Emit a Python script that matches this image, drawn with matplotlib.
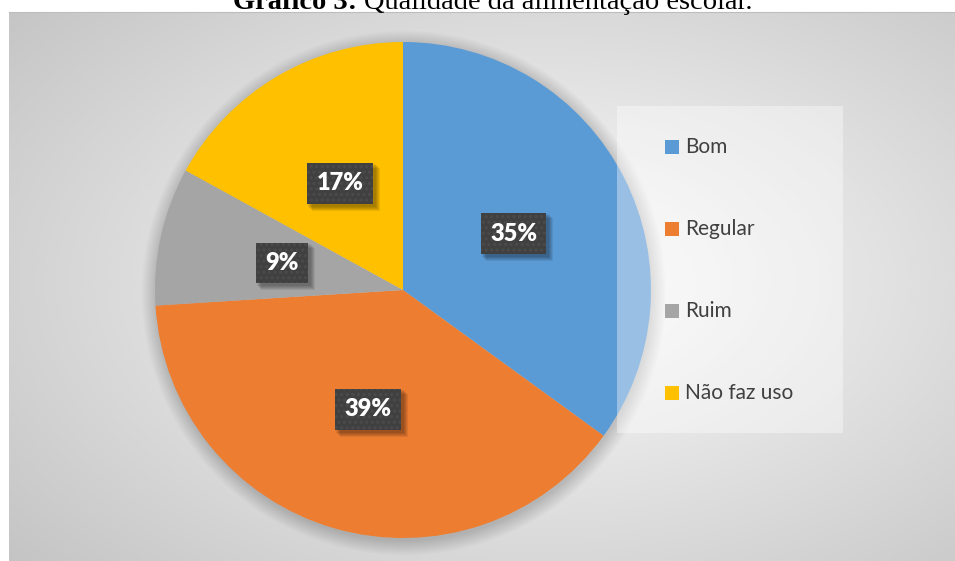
import numpy as np
import matplotlib
matplotlib.use("Agg")
import matplotlib.pyplot as plt
from matplotlib.patches import Rectangle, Circle

plt.rcParams["hatch.linewidth"] = 1.5

# data
categories = ["Bom", "Regular", "Ruim", "Não faz uso"]
values = [35, 39, 9, 17]
colors = ["#5B9BD5", "#ED7D31", "#A5A5A5", "#FFC000"]

W, H = 955, 561
fig = plt.figure(figsize=(W / 100, H / 100), dpi=100)
fig.patch.set_facecolor("white")
ax = fig.add_axes([0, 0, 1, 1])

# chart area with radial grey gradient (y axis goes up, so image y -> H - y)
x0, x1, ytop, ybot = 9, 955, 12, 561
gx = np.linspace(x0, x1, 400)
gy = np.linspace(H - ybot, H - ytop, 240)
GX, GY = np.meshgrid(gx, gy)
r = np.sqrt(((GX - 545) / 480) ** 2 + ((GY - 280) / 290) ** 2)
grad = np.clip(0.99 - 0.15 * r, 0, 1)
ax.imshow(grad, extent=(x0, x1, H - ybot, H - ytop), origin="lower",
          cmap="gray", vmin=0, vmax=1, aspect="auto", zorder=0,
          interpolation="bicubic")
ax.plot([x0, x1], [H - ytop, H - ytop], color="#bdbdbd", lw=0.8, zorder=1)

# pie
cx, cy, R = 403, H - 290, 248
for i in range(14):
    ax.add_patch(Circle((cx + 1, cy - 3), R + i * 1.1, color="black",
                        alpha=0.011, lw=0, zorder=1))

wedges, texts, autotexts = ax.pie(
    values, colors=colors, startangle=90, counterclock=False,
    center=(cx, cy), radius=R, autopct=lambda p: f"{p:.0f}%",
    pctdistance=0.5, frame=True,
    wedgeprops=dict(linewidth=0, zorder=2),
    textprops=dict(zorder=5))

for t in autotexts:
    t.set_color("white")
    t.set(fontsize=17, fontweight="heavy", family=["Lato", "DejaVu Sans"])
    t.set_bbox(dict(boxstyle="square,pad=0.4", fc="#404040", ec="#4b4b4b",
                    lw=0, hatch="..."))

# legend box (semi-transparent white)
ax.add_patch(Rectangle((617, H - 433), 226, 327, fc="white", ec="none",
                       alpha=0.38, zorder=6))
leg_y = [147, 229, 311, 393]
for name, col, yy in zip(categories, colors, leg_y):
    ax.add_patch(Rectangle((665, H - yy - 7), 14, 14, fc=col, ec="none", zorder=7))
    ax.text(685, H - yy, name, fontsize=15, color="#404040",
            family=["Lato", "DejaVu Sans"], va="center", ha="left", zorder=7)

ax.set_xlim(0, W)
ax.set_ylim(0, H)
ax.axis("off")

# title, cut at the top: bold part then the rest right after it
t1 = fig.text(233 / W, (H - 9) / H, "Gráfico 3:", family="Liberation Serif",
              fontsize=20.5, fontweight="bold", ha="left", va="baseline")
fig.canvas.draw()
bb = t1.get_window_extent()
fig.text((bb.x1 + 7) / W, (H - 9) / H, "Qualidade da alimentação escolar.",
         family="Liberation Serif", fontsize=20.5, ha="left", va="baseline")

# soft shadow behind the label boxes (axes units are pixels here)
for t in autotexts:
    b = t.get_bbox_patch().get_window_extent()
    for d in (2, 3, 4, 5, 6):
        ax.add_patch(Rectangle((b.x0 + d - 1, b.y0 - d - 1), b.width + 2,
                               b.height + 2, fc="black", ec="none",
                               alpha=0.08, zorder=4))

fig.savefig("out.png", dpi=100)
